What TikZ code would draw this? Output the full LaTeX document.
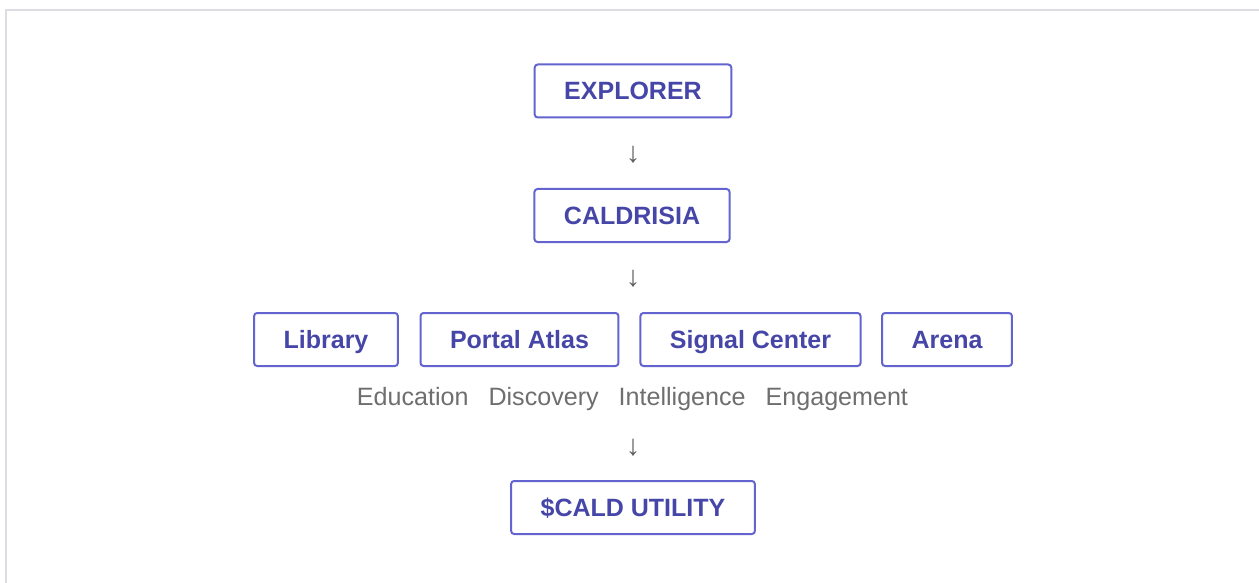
\documentclass[tikz,border=0pt]{standalone}
\usepackage{fontspec}
\setmainfont{Liberation Sans}

\definecolor{tierline}{HTML}{6464D0}
\definecolor{tiertext}{HTML}{4646A8}
\definecolor{pillartext}{HTML}{6E6E6E}
\definecolor{arrowgray}{HTML}{5E5E5E}
\definecolor{framegray}{HTML}{DCDCE4}

\tikzset{
  tier/.style={draw=tierline, line width=2pt, rounded corners=3pt,
    minimum height=53pt, inner xsep=29.5pt, text height=17.8pt, text depth=0pt,
    text=tiertext, font=\fontsize{25}{30}\selectfont\bfseries},
  flowarrow/.style={text=arrowgray, inner sep=0pt,
    font=\fontsize{29}{34}\selectfont},
  pillars/.style={text=pillartext, inner sep=0pt,
    font=\fontsize{25.1}{30}\selectfont}
}

\begin{document}
\begin{tikzpicture}[x=1pt,y=-1pt]

\useasboundingbox (0,0) rectangle (1259,583);

% page frame
\draw[framegray, line width=2pt]
  (6,583) -- (6,10) -- (1259,10);

% top of the stack
\node[tier] (explorer) at (633,91) {EXPLORER};
\node[flowarrow] (arrowA) at (633,155) {↓};
\node[tier] (caldrisia) at (632,215.5) {CALDRISIA};
\node[flowarrow] (arrowB) at (633,279) {↓};

% the four products
\node[tier] (library) at (326,339.5) {Library};
\node[tier] (portal) at (519.5,339.5) {Portal Atlas};
\node[tier] (signal) at (750.5,339.5) {Signal Center};
\node[tier] (arena) at (947,339.5) {Arena};

\node[pillars] (roles) at (632.5,399.5)
  {Education\hspace{20pt}Discovery\hspace{20pt}Intelligence\hspace{20pt}Engagement};

\node[flowarrow] (arrowC) at (633,448) {↓};
\node[tier] (utility) at (633,507.5) {\$CALD UTILITY};

\end{tikzpicture}
\end{document}
